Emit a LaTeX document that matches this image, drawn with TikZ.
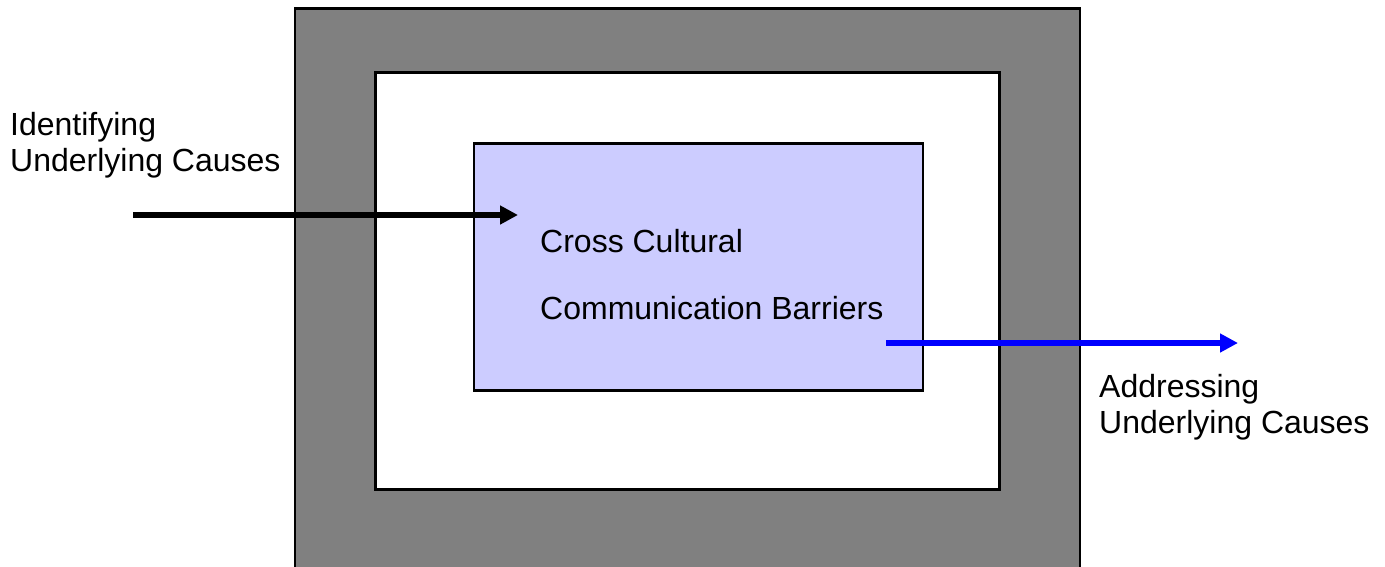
\documentclass[tikz,border=0pt]{standalone}
\usepackage{fontspec}
\setmainfont{Liberation Sans}
\usetikzlibrary{arrows.meta}
\begin{document}
\begin{tikzpicture}[x=1pt,y=-1pt,
  frame/.style={draw=black,line width=2.5pt},
  lbl/.style={anchor=base west,inner sep=0pt,font=\fontsize{32}{36}\selectfont,align=left},
  flow/.style={line width=5.5pt,-{Triangle[length=18pt,width=18pt]}}]
\useasboundingbox (0,0) rectangle (1385,566);
\begin{scope}
\clip (0,0) rectangle (1385,566);
\node[frame,fill={rgb,255:red,128;green,128;blue,128},minimum width=785pt,minimum height=580pt,anchor=north west,inner sep=0pt] (outer) at (293.5,7) {};
\end{scope}
\node[frame,fill=white,minimum width=624pt,minimum height=417pt,anchor=north west,inner sep=0pt] (mid) at (374,71) {};
\node[frame,fill={rgb,255:red,204;green,204;blue,255},minimum width=449pt,minimum height=247pt,anchor=north west,inner sep=0pt] (core) at (472.5,142) {};
\node[lbl] (t1) at (540,252) {Cross Cultural};
\node[lbl] (t2) at (540,319) {Communication Barriers};
\node[lbl] (idl) at (10,171) {Identifying\\Underlying Causes};
\node[lbl] (adl) at (1099,433) {Addressing\\Underlying Causes};
\coordinate (inS) at (133,215);
\coordinate (inE) at (518,215);
\draw[flow,black] (inS) -- (inE);
\coordinate (outS) at (886,343);
\coordinate (outE) at (1238,343);
\draw[flow,blue] (outS) -- (outE);
\end{tikzpicture}
\end{document}
